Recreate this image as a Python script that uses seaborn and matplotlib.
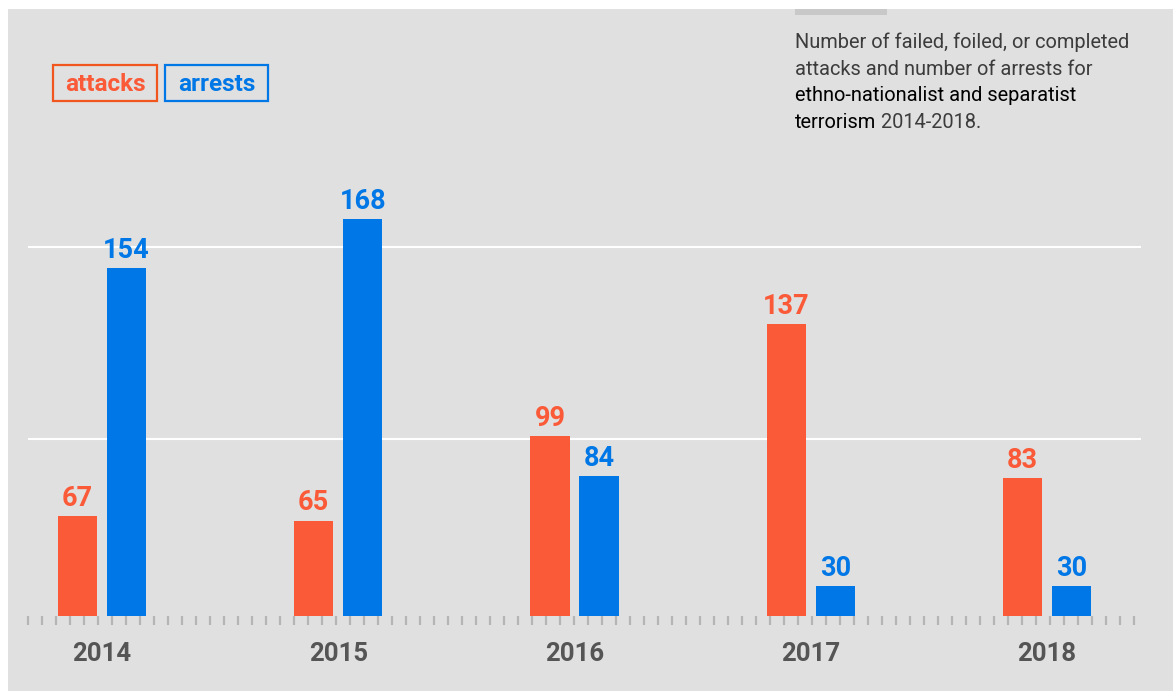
import numpy as np
import pandas as pd
import matplotlib
matplotlib.use('Agg')
import matplotlib.pyplot as plt
import seaborn as sns
from matplotlib.patches import Rectangle
from matplotlib.ticker import FixedLocator

# ---------------- data ----------------
years = ['2014', '2015', '2016', '2017', '2018']
attacks = [67, 65, 99, 137, 83]
arrests = [154, 168, 84, 30, 30]
series_names = ['attacks', 'arrests']
gridline_values = [98, 160]

subtitle_lines = [
    ('Number of failed, foiled, or completed', None),
    ('attacks and number of arrests for', None),
    ('ethno-nationalist and separatist', None),
    ('terrorism', ' 2014-2018.'),
]
strong_parts = ('ethno-nationalist and separatist', 'terrorism')

# ---------------- styles ----------------
ORANGE = '#fa5a37'
ORANGE_EDGE = '#f2561f'
BLUE = '#0077e6'
BG = '#e0e0e0'
YEAR_COLOR = '#555555'

df = pd.DataFrame({
    'year': years * 2,
    'count': attacks + arrests,
    'series': [series_names[0]] * len(years) + [series_names[1]] * len(years),
})

sns.set_theme(style='white')
plt.rcParams['font.family'] = ['Roboto', 'DejaVu Sans']

W, H = 1173, 691
fig = plt.figure(figsize=(W / 100, H / 100), dpi=100, facecolor='white')


def fx(px):
    return px / W


def fy(py):
    return 1 - py / H


# grey panel
fig.patches.append(Rectangle((fx(8), 0), 1 - fx(8), fy(9), transform=fig.transFigure,
                             fc=BG, ec='none', zorder=-10))
# small darker tab at top
fig.patches.append(Rectangle((fx(795), fy(15)), fx(887 - 795), 6 / H, transform=fig.transFigure,
                             fc='#c8c8c8', ec='none', zorder=-5))

ax_left, ax_right, ax_bottom, ax_top = 28, 1141, 616, 150
ax = fig.add_axes([fx(ax_left), fy(ax_bottom), fx(ax_right - ax_left), (ax_bottom - ax_top) / H])
ax.set_facecolor('none')

sns.barplot(data=df, x='year', y='count', hue='series', hue_order=series_names,
            palette=[ORANGE, BLUE], width=0.415, gap=0.2, legend=False,
            saturation=1, linewidth=0, ax=ax, zorder=3)

# power scale to reproduce the reference's visual proportions
ax.set_yscale('function', functions=(lambda v: np.power(np.clip(v, 0, None), 1.5),
                                     lambda v: np.power(np.clip(v, 0, None), 1 / 1.5)))
ax.set_ylim(0, 187)
ax.set_xlim(-0.313, 4.398)

for cont, col in zip(ax.containers, [ORANGE, BLUE]):
    ax.bar_label(cont, fmt='{:.0f}', padding=3, color=col, fontsize=19.5, fontweight='bold')

# axes cosmetics
for s in ax.spines.values():
    s.set_visible(False)
ax.set_xlabel('')
ax.set_ylabel('')
ax.set_yticks(gridline_values)
ax.set_yticklabels([])
ax.yaxis.set_minor_locator(FixedLocator([]))
ax.tick_params(axis='y', which='both', length=0, left=False)
ax.yaxis.grid(True, color='white', lw=1.5)
ax.xaxis.grid(False)
ax.set_axisbelow(True)

step = 14 / 236.25
ax.xaxis.set_minor_locator(FixedLocator(np.arange(-0.313, 4.398 + 1e-6, step)))
ax.tick_params(axis='x', which='minor', bottom=True, length=6.5, width=1.6,
               color='#b5b5b5', direction='out')
ax.tick_params(axis='x', which='major', bottom=True, length=0, pad=19, labelsize=18.5,
               labelcolor=YEAR_COLOR)
for lab in ax.get_xticklabels():
    lab.set_fontweight('bold')

# legend boxes
legend_boxes = [(53, 157, ORANGE_EDGE, ORANGE), (165, 268, BLUE, BLUE)]
for name, (x0, x1, ec, tc) in zip(series_names, legend_boxes):
    fig.patches.append(Rectangle((fx(x0), fy(101)), fx(x1 - x0), 36 / H, transform=fig.transFigure,
                                 fill=False, ec=ec, lw=1.6))
    fig.text(fx((x0 + x1) / 2), fy(91), name, ha='center', va='baseline', color=tc,
             fontsize=17.5, fontweight='bold')

# subtitle
renderer = fig.canvas.get_renderer()
baselines = [48, 75, 101, 128]
PLAIN_COLOR = '#3c3c3c'
for (main, tail), yb in zip(subtitle_lines, baselines):
    strong = main in strong_parts
    t = fig.text(fx(795), fy(yb), main, ha='left', va='baseline', fontsize=14.4,
                 fontweight='normal',
                 color='#000000' if strong else PLAIN_COLOR)
    if tail:
        bb = t.get_window_extent(renderer=renderer)
        fig.text(bb.x1 / W, fy(yb), tail, ha='left', va='baseline', fontsize=14.4,
                 fontweight='normal', color=PLAIN_COLOR)

fig.savefig('out.png', dpi=100, facecolor='white')
